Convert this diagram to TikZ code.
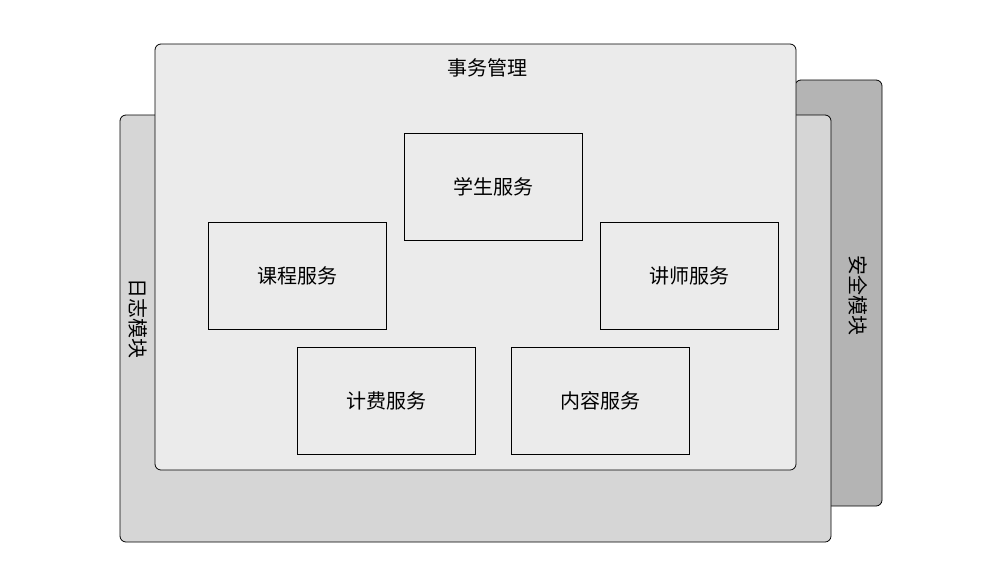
\documentclass[tikz,border=0pt]{standalone}
\usepackage{fontspec}
\newfontfamily\cjk{Noto Sans CJK SC}
\begin{document}
\begin{tikzpicture}[x=1pt,y=-1pt,
  panel/.style={draw=black,line width=0.8pt,rounded corners=6pt},
  svc/.style={draw=black,line width=0.8pt,fill=boxgray,minimum width=178pt,minimum height=107pt,inner sep=0pt,font=\cjk\fontsize{20}{24}\selectfont},
  lbl/.style={font=\cjk\fontsize{20}{24}\selectfont,inner sep=0pt}]
\definecolor{boxgray}{HTML}{EBEBEB}
\definecolor{loggray}{HTML}{D6D6D6}
\definecolor{secgray}{HTML}{B4B4B4}
\useasboundingbox (0,0) rectangle (1006,571);
\draw[panel,fill=secgray] (795,80) rectangle (882,506);
\node[lbl,rotate=-90] (sec) at (858,295) {安全模块};
\draw[panel,fill=loggray] (120,115) rectangle (831,542);
\node[lbl,rotate=-90] (log) at (138,318) {日志模块};
\draw[panel,fill=boxgray] (155,44) rectangle (796,470);
\node[lbl] (tm) at (487,68) {事务管理};
\node[svc] (s1) at (493,186.5) {学生服务};
\node[svc] (s2) at (297,275.5) {课程服务};
\node[svc] (s3) at (689,275.5) {讲师服务};
\node[svc] (s4) at (386,400.5) {计费服务};
\node[svc] (s5) at (600,400.5) {内容服务};
\end{tikzpicture}
\end{document}
